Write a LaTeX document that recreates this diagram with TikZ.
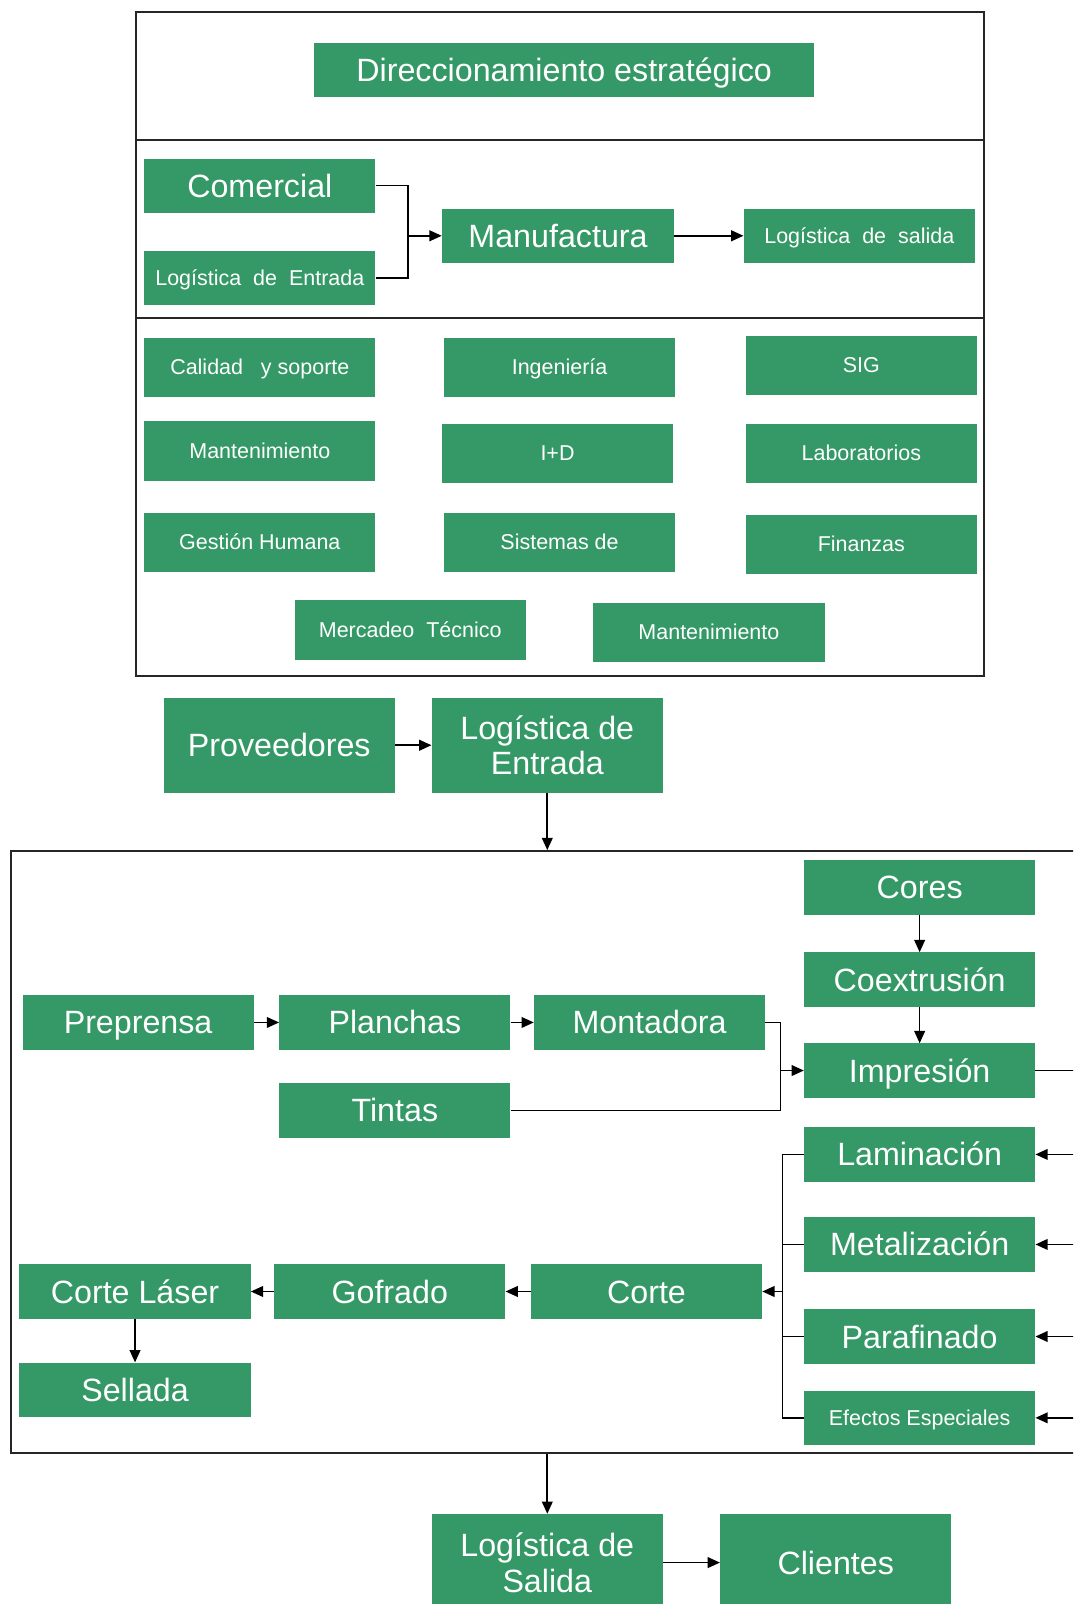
\documentclass[tikz,border=0pt]{standalone}
\usepackage{fontspec}
\setmainfont{Liberation Sans}
\usetikzlibrary{arrows.meta}
\definecolor{boxgreen}{RGB}{52,153,103}
\begin{document}
\begin{tikzpicture}[x=1pt,y=-1pt,
  gbox/.style={fill=boxgreen,text=white,inner sep=0pt,minimum width=226pt,minimum height=53pt,align=center},
  bigtwo/.style={font=\fontsize{31.5}{35}\selectfont},
  big/.style={bigtwo,text height=26pt,text depth=3.5pt},
  small/.style={font=\fontsize{21}{25}\selectfont,text height=18pt,text depth=3pt},
  tall/.style={minimum height=58pt},
  frame/.style={draw=black!85,line width=2pt},
  link/.style={draw=black,line width=1.6pt},
  arr/.style={link,-{Triangle[length=12pt,width=10.5pt]}},
]
\useasboundingbox (0,0) rectangle (1049,1568);
\clip (0,0) rectangle (1049,1568);

% ---------- strategic / support frame ----------
\draw[frame] (133,12) rectangle (962,661);
\draw[frame] (133,137) -- (962,137);
\draw[frame] (133,311) -- (962,311);

\node[gbox,big,minimum width=489pt] (dir) at (551.5,68.5) {Direccionamiento estratégico};

\node[gbox,big] (com) at (254,181.5) {Comercial};
\node[gbox,small] (le1) at (254,271.5) {Logística\ \ de\ \ Entrada};
\node[gbox,big,minimum width=227pt] (man) at (545.5,230.5) {Manufactura};
\node[gbox,small] (ls1) at (840,230.5) {Logística\ \ de\ \ salida};

\coordinate (j1) at (399,230.5);
\draw[link] (com.east) -| (j1) |- (le1.east);
\draw[arr] (j1) -- (man.west);
\draw[arr] (man.east) -- (ls1.west);

\node[gbox,small,tall] (cal)   at (254,359) {Calidad\ \ \ y soporte};
\node[gbox,small,tall] (ing)   at (547,359) {Ingeniería};
\node[gbox,small,tall] (sig)   at (842,357) {SIG};
\node[gbox,small,tall] (mant1) at (254,441) {Mantenimiento};
\node[gbox,small,tall] (id)    at (545,443) {I+D};
\node[gbox,small,tall] (lab)   at (842,443) {Laboratorios};
\node[gbox,small,tall] (gh)    at (254,530) {Gestión Humana};
\node[gbox,small,tall] (sis)   at (547,530) {Sistemas de};
\node[gbox,small,tall] (fin)   at (842,532) {Finanzas};
\node[gbox,small,tall] (mt)    at (401,616) {Mercadeo\ \ Técnico};
\node[gbox,small,tall] (mant2) at (693,618) {Mantenimiento};

% ---------- inputs ----------
\node[gbox,big,minimum height=93pt] (prov) at (273,728.5) {Proveedores};
\node[gbox,bigtwo,minimum height=93pt] (le2)  at (535,728.5) {Logística de\\Entrada};
\draw[arr] (prov.east) -- (le2.west);

% ---------- plant frame ----------
\node[frame,minimum width=1079pt,minimum height=588pt,inner sep=0pt] (plant) at (550.5,1126) {};
\draw[arr] (le2.south) -- (le2.south |- plant.north);

\node[gbox,big] (pre) at (135,999.5) {Preprensa};
\node[gbox,big] (pla) at (386,999.5) {Planchas};
\node[gbox,big] (mon) at (635,999.5) {Montadora};
\node[gbox,big] (tin) at (386,1085.5) {Tintas};
\draw[arr] (pre.east) -- (pla.west);
\draw[arr] (pla.east) -- (mon.west);

\node[gbox,big] (cor) at (899,867.5) {Cores};
\node[gbox,big] (coe) at (899,957.5) {Coextrusión};
\node[gbox,big] (imp) at (899,1046.5) {Impresión};
\draw[arr] (cor.south) -- (coe.north);
\draw[arr] (coe.south) -- (imp.north);

\coordinate (j2) at (763,1046.5);
\draw[link] (mon.east) -| (j2) |- (tin.east);
\draw[arr] (j2) -- (imp.west);

\node[gbox,big] (lam) at (899,1128.5) {Laminación};
\node[gbox,big] (met) at (899,1216.5) {Metalización};
\node[gbox,big] (par) at (899,1306.5) {Parafinado};
\node[gbox,small] (efe) at (899,1386) {Efectos Especiales};

\coordinate (r0) at (1070,1046.5);
\coordinate (r1) at (1070,1128.5);
\coordinate (r2) at (1070,1216.5);
\coordinate (r3) at (1070,1306.5);
\coordinate (r4) at (1070,1386);
\draw[link] (imp.east) -- (r0);
\draw[arr] (r1) -- (lam.east);
\draw[arr] (r2) -- (met.east);
\draw[arr] (r3) -- (par.east);
\draw[arr] (r4) -- (efe.east);

\node[gbox,big] (corte) at (632,1262.5) {Corte};
\node[gbox,big] (gof)   at (381,1262.5) {Gofrado};
\node[gbox,big] (cl)    at (132,1262.5) {Corte Láser};
\node[gbox,big] (sel)   at (132,1358.5) {Sellada};

\coordinate (j3) at (765,1262.5);
\draw[link] (lam.west) -| (j3);
\draw[link] (efe.west) -| (j3);
\draw[link] (met.west) -- (met.west -| j3);
\draw[link] (par.west) -- (par.west -| j3);
\draw[arr] (j3) -- (corte.east);
\draw[arr] (corte.west) -- (gof.east);
\draw[arr] (gof.west) -- (cl.east);
\draw[arr] (cl.south) -- (sel.north);

% ---------- outputs ----------
\node[gbox,bigtwo,minimum height=95pt] (ls2) at (535,1527.5) {Logística de\\Salida};
\node[gbox,big,minimum height=95pt] (cli) at (817,1527.5) {Clientes};
\draw[arr] (ls2.north |- plant.south) -- (ls2.north);
\draw[arr] (ls2.east) -- (cli.west);
\end{tikzpicture}
\end{document}
